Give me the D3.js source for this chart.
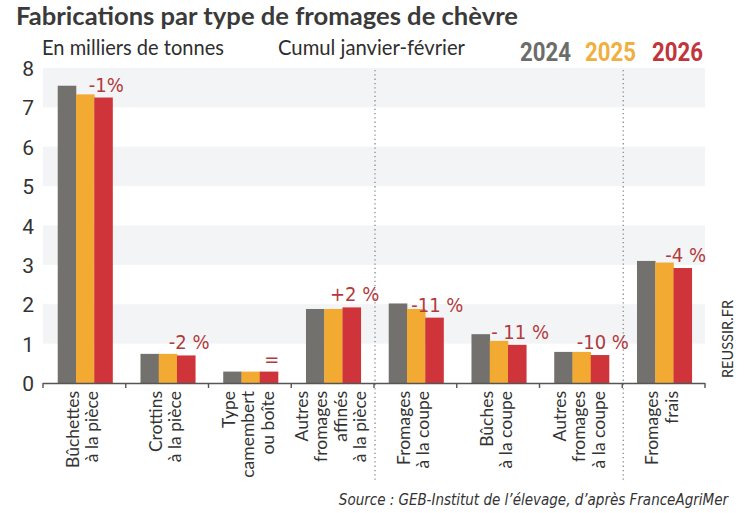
<!DOCTYPE html>
<html><head><meta charset="utf-8">
<script src="https://cdn.jsdelivr.net/npm/d3@7"></script>
<style>body{margin:0;background:#fff}svg{display:block}</style>
</head><body><svg id="c" width="747" height="513"></svg>
<script>
const categories = [
  ["Bûchettes","à la pièce"],
  ["Crottins","à la pièce"],
  ["Type","camembert","ou boîte"],
  ["Autres","fromages","affinés","à la pièce"],
  ["Fromages","à la coupe"],
  ["Bûches","à la coupe"],
  ["Autres","fromages","à la coupe"],
  ["Fromages","frais"]
];
const years = ["2024","2025","2026"];
const v2024 = [7.55,0.74,0.29,1.88,2.02,1.24,0.79,3.10];
const v2025 = [7.33,0.74,0.29,1.88,1.88,1.07,0.79,3.06];
const v2026 = [7.25,0.70,0.29,1.92,1.66,0.97,0.71,2.92];
const changes = ["-1%","-2 %","=","+2 %","-11 %","- 11 %","-10 %","-4 %"];
const yTicks = [0,1,2,3,4,5,6,7,8];
const separatorsAfter = [3,6];

const colors = ["#73716d","#f3aa33","#cf343a"];
const series = [v2024,v2025,v2026];
const svg = d3.select("#c");
const L=43,R=705,T=68,B=383;
const idx = d3.range(categories.length);
const x0 = d3.scaleBand().domain(idx).range([L,R]).padding(0);
const x1 = d3.scaleBand().domain(d3.range(3)).range([x0.bandwidth()*0.178,x0.bandwidth()*0.84]).padding(0);
const y = d3.scaleLinear().domain([0,8]).range([B,T]);

// bands
svg.append("g").selectAll("rect").data(yTicks.filter(t=>t%2===1))
  .join("rect").attr("x",L).attr("width",R-L)
  .attr("y",d=>y(d+1)).attr("height",d=>y(d)-y(d+1)).attr("fill","#f3f4f5");

// separators
svg.append("g").selectAll("line").data(separatorsAfter).join("line")
  .attr("x1",d=>x0(d)+x0.bandwidth()+1).attr("x2",d=>x0(d)+x0.bandwidth()+1)
  .attr("y1",T+2).attr("y2",480).attr("stroke","#8a8a8a").attr("stroke-width",1.3)
  .attr("stroke-dasharray","1.3,3");

// bars
const g = svg.append("g");
idx.forEach(i=>{
  series.forEach((s,k)=>{
    g.append("rect").attr("x",x0(i)+x1(k)).attr("width",x1.bandwidth()+0.3)
      .attr("y",y(s[i])).attr("height",y(0)-y(s[i])).attr("fill",colors[k]);
  });
});

// change labels
svg.append("g").selectAll("text").data(idx).join("text")
  .attr("x",i=>x0(i)+x1(2)+x1.bandwidth()/2+3)
  .attr("y",i=>y(v2026[i])-6)
  .attr("text-anchor","middle")
  .attr("font-family","'Liberation Sans Narrow','DejaVu Sans Condensed',sans-serif")
  .attr("font-size",20).attr("fill","#b23a3d")
  .text(i=>changes[i]);

// x axis line and ticks
svg.append("line").attr("x1",L).attr("x2",R).attr("y1",B+0.5).attr("y2",B+0.5)
  .attr("stroke","#555").attr("stroke-width",1.6);
const bounds = idx.map(i=>x0(i)).concat([x0(idx.length-1)+x0.bandwidth()]);
svg.append("g").selectAll("line").data(bounds).join("line")
  .attr("x1",d=>d).attr("x2",d=>d).attr("y1",B).attr("y2",B+5)
  .attr("stroke","#555").attr("stroke-width",1.4);

// category labels
const lh = 19.5;
idx.forEach(i=>{
  const lines = categories[i];
  const cx = x0(i)+x0.bandwidth()/2 - 2;
  lines.forEach((t,j)=>{
    const xl = cx + (j-(lines.length-1)/2)*lh;
    svg.append("text").attr("transform",`translate(${xl},391) rotate(-90)`)
      .attr("text-anchor","end").attr("dy","0.35em")
      .attr("font-family","Lato,'Open Sans',sans-serif").attr("font-size",17.5)
      .attr("fill","#333").text(t);
  });
});

// y axis
const ya = svg.append("g").attr("transform",`translate(34,0)`)
  .call(d3.axisLeft(y).tickValues(yTicks).tickSize(0).tickPadding(0).tickFormat(d3.format("d")));
ya.select(".domain").remove();
ya.selectAll("text").attr("font-family","Roboto,sans-serif").attr("font-size",21)
  .attr("fill","#333").attr("dy","0.36em");

// titles
svg.append("text").attr("x",16).attr("y",24.5).attr("font-family","Lato,sans-serif")
  .attr("font-weight",700).attr("font-size",25).attr("fill","#3a3a3a")
  .attr("textLength",502).attr("lengthAdjust","spacingAndGlyphs")
  .text("Fabrications par type de fromages de chèvre");
svg.append("text").attr("x",42).attr("y",55).attr("font-family","Lato,sans-serif")
  .attr("font-size",21).attr("fill","#2e2e2e")
  .attr("textLength",182).attr("lengthAdjust","spacingAndGlyphs")
  .text("En milliers de tonnes");
svg.append("text").attr("x",278).attr("y",55).attr("font-family","Lato,sans-serif")
  .attr("font-size",21).attr("fill","#2e2e2e")
  .attr("textLength",187).attr("lengthAdjust","spacingAndGlyphs")
  .text("Cumul janvier-février");

// legend
const legX = [520,585,652];
svg.append("g").selectAll("text").data(years).join("text")
  .attr("x",(d,k)=>legX[k]).attr("y",61)
  .attr("font-family","Roboto,sans-serif").attr("font-weight",700).attr("font-size",25)
  .attr("fill",(d,k)=>["#6c6c6a","#f0b03f","#c2343b"][k])
  .attr("textLength",51).attr("lengthAdjust","spacingAndGlyphs")
  .text(d=>d);

// source
svg.append("text").attr("x",728).attr("y",505).attr("text-anchor","end")
  .attr("font-family","'Liberation Sans Narrow','DejaVu Sans Condensed',sans-serif")
  .attr("font-style","italic").attr("font-size",15).attr("fill","#333")
  .text("Source : GEB-Institut de l’élevage, d’après FranceAgriMer");

// credit
svg.append("text").attr("transform","translate(727,378) rotate(-90)")
  .attr("dy","0.35em")
  .attr("font-family","Lato,sans-serif").attr("font-size",16).attr("fill","#333")
  .attr("textLength",78).attr("lengthAdjust","spacingAndGlyphs")
  .text("REUSSIR.FR");
</script></body></html>
